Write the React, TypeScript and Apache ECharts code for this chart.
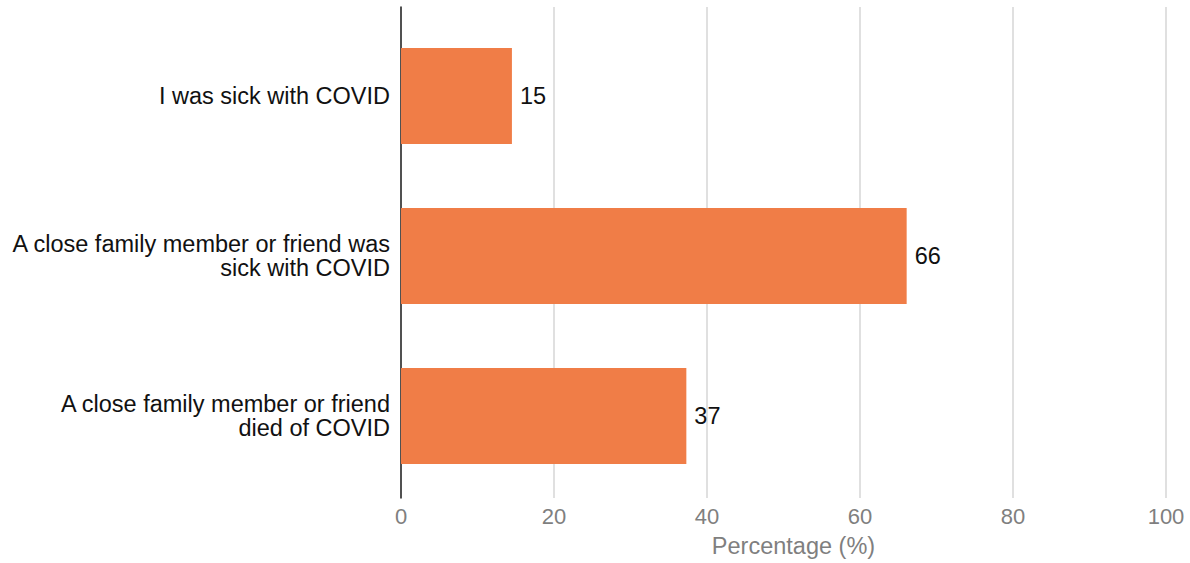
import React, { useEffect, useRef } from "react";
import * as echarts from "echarts";

const categories = [
  "I was sick with COVID",
  "A close family member or friend was\nsick with COVID",
  "A close family member or friend\ndied of COVID",
];
const values = [14.5, 66.1, 37.3];
const xTicks = [0, 20, 40, 60, 80, 100];
const axisTitle = "Percentage (%)";

export default function App() {
  const ref = useRef<HTMLDivElement>(null);
  useEffect(() => {
    if (!ref.current) return;
    const chart = echarts.init(ref.current, undefined, { renderer: "svg" });
    const font = "'Liberation Sans', Arial, sans-serif";
    chart.setOption({
      animation: false,
      grid: [
        { left: 401, right: 24, top: 16, bottom: 67 },
        { left: 401, right: 24, top: 7, bottom: 58 },
      ],
      xAxis: [
        { gridIndex: 0, type: "value", min: 0, max: 100, show: false },
        {
          gridIndex: 1,
          type: "value",
          min: xTicks[0],
          max: xTicks[xTicks.length - 1],
          interval: 20,
          axisLine: { show: false },
          axisTick: { show: false },
          splitLine: { show: true, lineStyle: { color: "#d6d6d6", width: 1.5 } },
          axisLabel: { color: "#7f7f7f", fontSize: 22, fontFamily: font, margin: 7 },
          name: axisTitle,
          nameLocation: "middle",
          nameGap: 36,
          nameTextStyle: { color: "#7f7f7f", fontSize: 23.5, fontFamily: font, padding: [0, 0, 0, 20] },
        },
      ],
      yAxis: [
        {
          gridIndex: 0,
          type: "category",
          data: categories,
          inverse: true,
          axisLine: { show: false },
          axisTick: { show: false },
          splitLine: { show: false },
          axisLabel: {
            color: "#111",
            fontSize: 23.5,
            fontFamily: font,
            margin: 11,
            align: "right",
            lineHeight: 24,
          },
        },
        {
          gridIndex: 1,
          type: "value",
          axisLine: { show: true, onZero: false, lineStyle: { color: "#222", width: 1.5 } },
          axisTick: { show: false },
          axisLabel: { show: false },
          splitLine: { show: false },
        },
      ],
      series: [
        {
          type: "bar",
          xAxisIndex: 0,
          yAxisIndex: 0,
          data: values,
          barWidth: "60%",
          itemStyle: { color: "#f07d47" },
          label: {
            show: true,
            position: "right",
            distance: 8,
            color: "#111",
            fontSize: 23.5,
            fontFamily: font,
            formatter: (p: any) => String(Math.round(p.value)),
          },
        },
      ],
    });
    return () => chart.dispose();
  }, []);
  return <div ref={ref} style={{ width: 1190, height: 563, position: "absolute", left: 0, top: 0 }} />;
}
